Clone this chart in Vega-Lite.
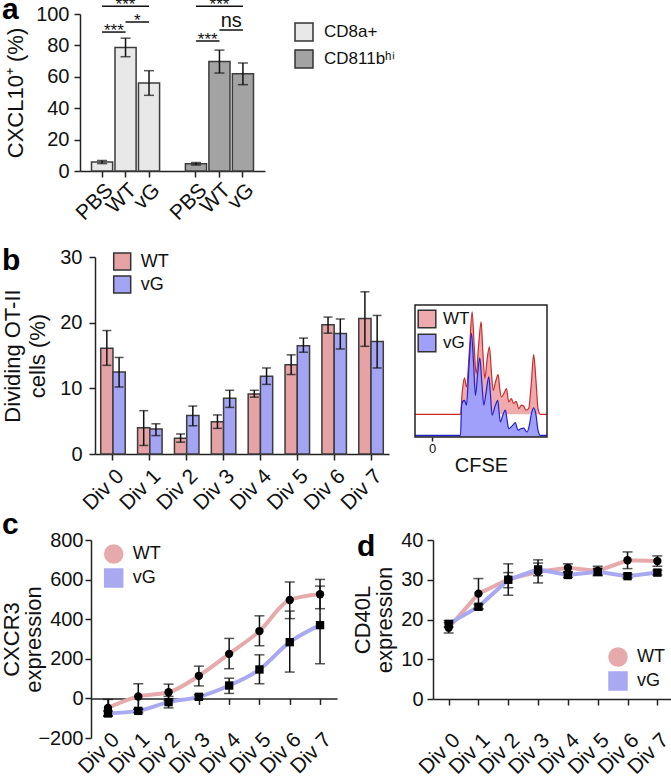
{
"$schema": "https://vega.github.io/schema/vega-lite/v6.json",
"padding": {"left": 0, "top": -6, "right": 0, "bottom": 0},
"background": "white",
"bounds": "flush",
"align": "each",
"columns": 2,
"spacing": {"row": 86, "column": 26},
"config": {
  "font": "Liberation Sans",
  "view": {"stroke": null},
  "axis": {"labelFont": "Liberation Sans", "titleFont": "Liberation Sans", "labelFontSize": 20, "titleFontSize": 22, "titleFontWeight": "normal", "labelColor": "#111", "titleColor": "#111", "domainColor": "#222", "tickColor": "#222", "domainWidth": 1.5, "tickWidth": 1.5, "tickSize": 6, "grid": false, "labelPadding": 5, "labelOverlap": false},
  "axisX": {"labelFontSize": 21},
  "legend": {"labelFont": "Liberation Sans", "labelColor": "#111", "symbolStrokeColor": "#333", "symbolStrokeWidth": 1.5, "symbolType": "square", "padding": 0, "labelFontSize": 18},
  "title": {"font": "Liberation Sans", "fontSize": 30, "fontWeight": "bold", "anchor": "start", "frame": "group", "baseline": "alphabetic", "offset": 0, "color": "#000"}
},
"datasets": {
  "a": [
    {"key": "c_PBS", "cell": "CD8a+", "value": 5.7, "lo": 4.7, "hi": 6.7},
    {"key": "c_WT", "cell": "CD8a+", "value": 78.7, "lo": 72.8, "hi": 84.6},
    {"key": "c_vG", "cell": "CD8a+", "value": 56.0, "lo": 48.2, "hi": 63.9},
    {"key": "m_PBS", "cell": "CD811bʰⁱ", "value": 4.6, "lo": 3.8, "hi": 5.4},
    {"key": "m_WT", "cell": "CD811bʰⁱ", "value": 69.8, "lo": 62.4, "hi": 77.0},
    {"key": "m_vG", "cell": "CD811bʰⁱ", "value": 62.0, "lo": 55.0, "hi": 68.8}
  ],
  "asig": [
    {"x1": "c_PBS", "x2": "c_vG", "xm": "c_WT", "span": 2, "y": 104.9, "label": "***"},
    {"x1": "c_WT", "x2": "c_vG", "xm": "c_WT", "span": 1, "y": 94.9, "label": "*"},
    {"x1": "c_PBS", "x2": "c_WT", "xm": "c_PBS", "span": 1, "y": 88.5, "label": "***"},
    {"x1": "m_PBS", "x2": "m_vG", "xm": "m_WT", "span": 2, "y": 104.9, "label": "***"},
    {"x1": "m_WT", "x2": "m_vG", "xm": "m_WT", "span": 1, "y": 89.8, "label": "ns"},
    {"x1": "m_PBS", "x2": "m_WT", "xm": "m_PBS", "span": 1, "y": 82.8, "label": "***"}
  ],
  "b": [
    {"div": "Div 0", "group": "WT", "value": 16.1, "lo": 13.5, "hi": 18.8},
    {"div": "Div 0", "group": "vG", "value": 12.5, "lo": 10.2, "hi": 14.7},
    {"div": "Div 1", "group": "WT", "value": 4.0, "lo": 1.3, "hi": 6.6},
    {"div": "Div 1", "group": "vG", "value": 3.8, "lo": 2.8, "hi": 4.6},
    {"div": "Div 2", "group": "WT", "value": 2.4, "lo": 1.8, "hi": 3.05},
    {"div": "Div 2", "group": "vG", "value": 5.85, "lo": 4.3, "hi": 7.3},
    {"div": "Div 3", "group": "WT", "value": 4.9, "lo": 3.9, "hi": 5.95},
    {"div": "Div 3", "group": "vG", "value": 8.5, "lo": 7.1, "hi": 9.7},
    {"div": "Div 4", "group": "WT", "value": 9.15, "lo": 8.65, "hi": 9.7},
    {"div": "Div 4", "group": "vG", "value": 11.85, "lo": 10.6, "hi": 13.1},
    {"div": "Div 5", "group": "WT", "value": 13.6, "lo": 12.1, "hi": 15.1},
    {"div": "Div 5", "group": "vG", "value": 16.5, "lo": 15.5, "hi": 17.65},
    {"div": "Div 6", "group": "WT", "value": 19.7, "lo": 18.4, "hi": 20.85},
    {"div": "Div 6", "group": "vG", "value": 18.35, "lo": 16.0, "hi": 20.55},
    {"div": "Div 7", "group": "WT", "value": 20.65, "lo": 16.4, "hi": 24.7},
    {"div": "Div 7", "group": "vG", "value": 17.15, "lo": 13.1, "hi": 21.1}
  ],
  "hist": [
    {"series": "WT", "x": -12.9, "y": 17.2}, {"series": "WT", "x": 21.6, "y": 17.2}, {"series": "WT", "x": 22.9, "y": 34.2}, {"series": "WT", "x": 24.6, "y": 44.8}, {"series": "WT", "x": 26.1, "y": 38.0}, {"series": "WT", "x": 28.4, "y": 67.1}, {"series": "WT", "x": 30.4, "y": 94.9}, {"series": "WT", "x": 31.9, "y": 69.6}, {"series": "WT", "x": 33.4, "y": 48.1}, {"series": "WT", "x": 35.5, "y": 72.2}, {"series": "WT", "x": 37.2, "y": 87.3}, {"series": "WT", "x": 38.5, "y": 64.6}, {"series": "WT", "x": 40.0, "y": 44.3}, {"series": "WT", "x": 41.8, "y": 59.5}, {"series": "WT", "x": 43.5, "y": 68.4}, {"series": "WT", "x": 44.8, "y": 51.9}, {"series": "WT", "x": 46.3, "y": 35.4}, {"series": "WT", "x": 48.1, "y": 41.8}, {"series": "WT", "x": 50.1, "y": 47.3}, {"series": "WT", "x": 51.3, "y": 36.7}, {"series": "WT", "x": 52.6, "y": 30.4}, {"series": "WT", "x": 54.4, "y": 32.9}, {"series": "WT", "x": 56.4, "y": 36.7}, {"series": "WT", "x": 58.1, "y": 26.6}, {"series": "WT", "x": 60.1, "y": 29.1}, {"series": "WT", "x": 61.9, "y": 25.3}, {"series": "WT", "x": 63.7, "y": 27.1}, {"series": "WT", "x": 65.7, "y": 21.5}, {"series": "WT", "x": 67.7, "y": 24.1}, {"series": "WT", "x": 69.5, "y": 23.3}, {"series": "WT", "x": 71.2, "y": 20.3}, {"series": "WT", "x": 73.2, "y": 21.5}, {"series": "WT", "x": 75.3, "y": 41.8}, {"series": "WT", "x": 77.0, "y": 62.5}, {"series": "WT", "x": 78.8, "y": 41.8}, {"series": "WT", "x": 80.3, "y": 21.5}, {"series": "WT", "x": 82.1, "y": 17.2}, {"series": "WT", "x": 87.1, "y": 17.2},
    {"series": "vG", "x": -12.9, "y": 1.3}, {"series": "vG", "x": 21.6, "y": 1.3}, {"series": "vG", "x": 22.4, "y": 24.1}, {"series": "vG", "x": 23.4, "y": 27.1}, {"series": "vG", "x": 24.6, "y": 27.8}, {"series": "vG", "x": 26.1, "y": 24.1}, {"series": "vG", "x": 27.9, "y": 51.9}, {"series": "vG", "x": 29.9, "y": 78.5}, {"series": "vG", "x": 31.4, "y": 57.0}, {"series": "vG", "x": 32.9, "y": 31.6}, {"series": "vG", "x": 34.7, "y": 49.4}, {"series": "vG", "x": 36.2, "y": 60.0}, {"series": "vG", "x": 37.7, "y": 41.8}, {"series": "vG", "x": 39.2, "y": 24.1}, {"series": "vG", "x": 41.0, "y": 34.2}, {"series": "vG", "x": 43.0, "y": 45.6}, {"series": "vG", "x": 44.3, "y": 31.6}, {"series": "vG", "x": 45.5, "y": 16.5}, {"series": "vG", "x": 47.6, "y": 22.8}, {"series": "vG", "x": 49.8, "y": 27.8}, {"series": "vG", "x": 50.8, "y": 19.0}, {"series": "vG", "x": 51.8, "y": 11.4}, {"series": "vG", "x": 53.6, "y": 16.5}, {"series": "vG", "x": 55.6, "y": 20.3}, {"series": "vG", "x": 56.9, "y": 12.7}, {"series": "vG", "x": 58.1, "y": 6.3}, {"series": "vG", "x": 60.7, "y": 8.4}, {"series": "vG", "x": 63.2, "y": 10.9}, {"series": "vG", "x": 64.2, "y": 7.6}, {"series": "vG", "x": 65.2, "y": 5.1}, {"series": "vG", "x": 67.2, "y": 6.3}, {"series": "vG", "x": 69.5, "y": 6.8}, {"series": "vG", "x": 70.7, "y": 5.1}, {"series": "vG", "x": 72.0, "y": 3.8}, {"series": "vG", "x": 73.7, "y": 8.9}, {"series": "vG", "x": 75.3, "y": 17.7}, {"series": "vG", "x": 77.0, "y": 22.0}, {"series": "vG", "x": 78.8, "y": 16.5}, {"series": "vG", "x": 80.3, "y": 5.1}, {"series": "vG", "x": 82.1, "y": 1.3}, {"series": "vG", "x": 87.1, "y": 1.3}
  ],
  "c": [
    {"div": "Div 0", "series": "WT", "value": -48, "lo": -90, "hi": -5},
    {"div": "Div 1", "series": "WT", "value": 10, "lo": -55, "hi": 74},
    {"div": "Div 2", "series": "WT", "value": 31, "lo": -10, "hi": 72},
    {"div": "Div 3", "series": "WT", "value": 114, "lo": 63, "hi": 163},
    {"div": "Div 4", "series": "WT", "value": 225, "lo": 150, "hi": 303},
    {"div": "Div 5", "series": "WT", "value": 340, "lo": 266, "hi": 417},
    {"div": "Div 6", "series": "WT", "value": 497, "lo": 403, "hi": 588},
    {"div": "Div 7", "series": "WT", "value": 526, "lo": 453, "hi": 601},
    {"div": "Div 0", "series": "vG", "value": -76, "lo": -88, "hi": -64},
    {"div": "Div 1", "series": "vG", "value": -63, "lo": -72, "hi": -55},
    {"div": "Div 2", "series": "vG", "value": -19, "lo": -48, "hi": 10},
    {"div": "Div 3", "series": "vG", "value": 8, "lo": -3, "hi": 18},
    {"div": "Div 4", "series": "vG", "value": 65, "lo": 25, "hi": 102},
    {"div": "Div 5", "series": "vG", "value": 146, "lo": 74, "hi": 220},
    {"div": "Div 6", "series": "vG", "value": 284, "lo": 133, "hi": 441},
    {"div": "Div 7", "series": "vG", "value": 370, "lo": 175, "hi": 567}
  ],
  "d": [
    {"div": "Div 0", "series": "WT", "value": 17.9, "lo": 16.6, "hi": 19.2},
    {"div": "Div 1", "series": "WT", "value": 26.5, "lo": 22.7, "hi": 30.3},
    {"div": "Div 2", "series": "WT", "value": 30.1, "lo": 26.1, "hi": 34.0},
    {"div": "Div 3", "series": "WT", "value": 32.0, "lo": 29.2, "hi": 35.0},
    {"div": "Div 4", "series": "WT", "value": 33.0, "lo": 32.0, "hi": 34.0},
    {"div": "Div 5", "series": "WT", "value": 32.2, "lo": 31.0, "hi": 33.4},
    {"div": "Div 6", "series": "WT", "value": 34.9, "lo": 32.8, "hi": 37.0},
    {"div": "Div 7", "series": "WT", "value": 34.7, "lo": 33.4, "hi": 36.0},
    {"div": "Div 0", "series": "vG", "value": 18.9, "lo": 18.1, "hi": 19.7},
    {"div": "Div 1", "series": "vG", "value": 23.2, "lo": 22.6, "hi": 23.8},
    {"div": "Div 2", "series": "vG", "value": 30.0, "lo": 28.0, "hi": 31.8},
    {"div": "Div 3", "series": "vG", "value": 32.6, "lo": 31.0, "hi": 34.2},
    {"div": "Div 4", "series": "vG", "value": 31.2, "lo": 30.6, "hi": 31.8},
    {"div": "Div 5", "series": "vG", "value": 32.0, "lo": 31.2, "hi": 32.8},
    {"div": "Div 6", "series": "vG", "value": 30.9, "lo": 30.4, "hi": 31.4},
    {"div": "Div 7", "series": "vG", "value": 31.8, "lo": 31.2, "hi": 32.4}
  ]
},
"resolve": {"scale": {"color": "independent", "shape": "independent"}, "legend": {"color": "independent", "shape": "independent"}},
"concat": [
  {
    "width": 185, "height": 157,
    "title": {"text": "a", "dx": -78, "dy": 32.5},
    "data": {"name": "a"},
    "layer": [
      {"mark": {"type": "bar", "stroke": "#3c3c3c", "strokeWidth": 1.5},
       "encoding": {
         "x": {"field": "key", "type": "nominal", "scale": {"domain": ["c_PBS", "c_WT", "c_vG", "gap", "m_PBS", "m_WT", "m_vG"], "paddingInner": 0.1, "paddingOuter": 0.49}, "axis": {"values": ["c_PBS", "c_WT", "c_vG", "m_PBS", "m_WT", "m_vG"], "labelExpr": "slice(datum.label, 2)", "title": null, "labelAngle": -45, "labelPadding": 2}},
         "y": {"field": "value", "type": "quantitative", "scale": {"domain": [0, 100], "nice": false}, "axis": {"values": [0, 20, 40, 60, 80, 100], "tickCount": 20, "labelOverlap": false, "title": "CXCL10⁺ (%)", "titlePadding": 8}},
         "color": {"field": "cell", "type": "nominal", "scale": {"domain": ["CD8a+", "CD811bʰⁱ"], "range": ["#e8e8e8", "#a3a3a3"]}, "legend": {"orient": "none", "legendX": 214, "legendY": 8, "title": null, "symbolSize": 324, "labelFontSize": 17, "rowPadding": 3, "labelOffset": 10}}
       }},
      {"mark": {"type": "rule", "color": "#111", "strokeWidth": 1.5}, "encoding": {"x": {"field": "key", "type": "nominal"}, "y": {"field": "lo", "type": "quantitative"}, "y2": {"field": "hi"}}},
      {"mark": {"type": "tick", "color": "#111", "size": 10, "thickness": 1.5}, "encoding": {"x": {"field": "key", "type": "nominal"}, "y": {"field": "lo", "type": "quantitative"}}},
      {"mark": {"type": "tick", "color": "#111", "size": 10, "thickness": 1.5}, "encoding": {"x": {"field": "key", "type": "nominal"}, "y": {"field": "hi", "type": "quantitative"}}},
      {"data": {"name": "asig"}, "mark": {"type": "rule", "color": "#111", "strokeWidth": 1.5}, "encoding": {"x": {"field": "x1", "type": "nominal"}, "x2": {"field": "x2"}, "y": {"field": "y", "type": "quantitative"}}},
      {"data": {"name": "asig"}, "transform": [{"filter": "datum.span == 2"}], "mark": {"type": "text", "fontSize": 17, "dy": 4, "baseline": "alphabetic", "color": "#111"}, "encoding": {"x": {"field": "xm", "type": "nominal", "bandPosition": 0.5}, "y": {"field": "y", "type": "quantitative"}, "text": {"field": "label"}}},
      {"data": {"name": "asig"}, "transform": [{"filter": "datum.span == 1 && datum.label != 'ns'"}], "mark": {"type": "text", "fontSize": 17, "dy": 4, "baseline": "alphabetic", "color": "#111"}, "encoding": {"x": {"field": "xm", "type": "nominal", "bandPosition": 1.056}, "y": {"field": "y", "type": "quantitative"}, "text": {"field": "label"}}},
      {"data": {"name": "asig"}, "transform": [{"filter": "datum.label == 'ns'"}], "mark": {"type": "text", "fontSize": 20, "dy": -3, "baseline": "alphabetic", "color": "#111"}, "encoding": {"x": {"field": "xm", "type": "nominal", "bandPosition": 1.056}, "y": {"field": "y", "type": "quantitative"}, "text": {"field": "label"}}}
    ]
  },
  {
    "width": 1, "height": 1,
    "data": {"values": []},
    "mark": {"type": "point", "opacity": 0}
  },
  {
    "width": 309, "height": 197,
    "title": {"text": "b", "dx": -78, "dy": 33},
    "data": {"name": "b"},
    "encoding": {
      "x": {"field": "div", "type": "nominal", "scale": {"domain": ["Div 0", "Div 1", "Div 2", "Div 3", "Div 4", "Div 5", "Div 6", "Div 7"], "range": [15, 309], "paddingInner": 0.335, "paddingOuter": 0.155}, "axis": {"title": null, "labelAngle": -45}},
      "xOffset": {"field": "group", "type": "nominal", "scale": {"domain": ["WT", "vG"]}}
    },
    "layer": [
      {"mark": {"type": "bar", "stroke": "#3c3c3c", "strokeWidth": 1.5},
       "encoding": {
         "y": {"field": "value", "type": "quantitative", "scale": {"domain": [0, 30], "nice": false}, "axis": {"values": [0, 10, 20, 30], "tickCount": 20, "labelOverlap": false, "offset": -15, "title": ["Dividing OT-II", "cells (%)"], "titleLineHeight": 25, "titlePadding": 10, "labelPadding": 7}},
         "color": {"field": "group", "type": "nominal", "scale": {"domain": ["WT", "vG"], "range": ["#e5a3a5", "#a4a4f4"]}, "legend": {"orient": "none", "legendX": 32.7, "legendY": -5, "title": null, "symbolSize": 289, "labelFontSize": 18, "rowPadding": 0, "labelOffset": 9}}
       }},
      {"mark": {"type": "rule", "color": "#111", "strokeWidth": 1.5}, "encoding": {"y": {"field": "lo", "type": "quantitative"}, "y2": {"field": "hi"}}},
      {"mark": {"type": "tick", "color": "#111", "size": 9, "thickness": 1.5}, "encoding": {"y": {"field": "lo", "type": "quantitative"}}},
      {"mark": {"type": "tick", "color": "#111", "size": 9, "thickness": 1.5}, "encoding": {"y": {"field": "hi", "type": "quantitative"}}}
    ]
  },
  {
    "width": 132, "height": 180,
    "data": {"name": "hist"},
    "encoding": {
      "x": {"field": "x", "type": "quantitative", "scale": {"domain": [-12.9, 87.1], "nice": false, "zero": false}, "axis": {"values": [0], "domain": false, "tickSize": 4, "labelFontSize": 13, "labelAngle": 0, "labelPadding": 1, "title": "CFSE", "titleFontSize": 20, "titlePadding": 0}},
      "y": {"field": "y", "type": "quantitative", "scale": {"domain": [0, 136.4], "nice": false}, "axis": null}
    },
    "layer": [
      {"transform": [{"filter": "datum.series == 'WT'"}], "mark": {"type": "area", "interpolate": "monotone"}, "encoding": {"y2": {"datum": 17.2}, "color": {"field": "series", "type": "nominal", "scale": {"domain": ["WT", "vG"], "range": ["#eeaaac", "#a0a0fa"]}, "legend": {"orient": "none", "legendX": 2, "legendY": 52, "title": null, "symbolSize": 310, "labelFontSize": 17, "rowPadding": 0, "labelOffset": 6}}}},
      {"transform": [{"filter": "datum.series == 'WT'"}], "mark": {"type": "line", "interpolate": "monotone", "color": "#cc2b2b", "strokeWidth": 1.2}},
      {"transform": [{"filter": "datum.series == 'vG'"}], "mark": {"type": "area", "interpolate": "monotone"}, "encoding": {"color": {"field": "series", "type": "nominal"}}},
      {"transform": [{"filter": "datum.series == 'vG'"}], "mark": {"type": "line", "interpolate": "monotone", "color": "#2222cc", "strokeWidth": 1.2}},
      {"data": {"values": [{"x0": -12.9, "x1": 87.1, "y0": 0, "y1": 100}]}, "mark": {"type": "rect", "filled": false, "stroke": "#222", "strokeWidth": 1.5}, "encoding": {"x": {"field": "x0", "type": "quantitative"}, "x2": {"field": "x1"}, "y": {"field": "y0", "type": "quantitative"}, "y2": {"field": "y1"}}}
    ]
  },
  {
    "width": 257, "height": 198,
    "title": {"text": "c", "dx": -78, "dy": 14},
    "data": {"name": "c"},
    "encoding": {
      "x": {"field": "div", "type": "ordinal", "scale": {"type": "point", "domain": ["Div 0", "Div 1", "Div 2", "Div 3", "Div 4", "Div 5", "Div 6", "Div 7"], "range": [11, 257], "padding": 0.56}, "axis": {"title": null, "labelAngle": -45, "offset": -39.6, "labelPadding": 24}}
    },
    "layer": [
      {"mark": {"type": "line", "interpolate": "monotone", "strokeWidth": 4},
       "encoding": {
         "y": {"field": "value", "type": "quantitative", "scale": {"domain": [-200, 800], "nice": false}, "axis": {"values": [-200, 0, 200, 400, 600, 800], "tickCount": 20, "labelOverlap": false, "offset": -11, "title": ["CXCR3", "expression"], "titleLineHeight": 22, "titlePadding": -8, "labelPadding": 2}},
         "color": {"field": "series", "type": "nominal", "scale": {"domain": ["WT", "vG"], "range": ["#e7aaac", "#a9a9f2"]}, "legend": {"orient": "none", "legendX": 23.7, "legendY": 4, "title": null, "symbolType": "M-0.8,-1L0.8,-1Q1,-1,1,-0.8L1,0.8Q1,1,0.8,1L-0.8,1Q-1,1,-1,0.8L-1,-0.8Q-1,-1,-0.8,-1Z", "symbolSize": 324, "symbolStrokeColor": "#555555", "symbolStrokeWidth": 1.5, "labelFontSize": 18, "rowPadding": 0, "labelOffset": 9, "encode": {"symbols": {"update": {"fill": {"signal": "datum.value === 'WT' ? '#e7aaac' : '#a9a9f2'"}, "stroke": {"value": "#555555"}, "strokeWidth": {"value": 1.5}, "opacity": {"value": 1}}}}}}
       }},
      {"mark": {"type": "rule", "color": "#111", "strokeWidth": 1.5}, "encoding": {"y": {"field": "lo", "type": "quantitative"}, "y2": {"field": "hi"}}},
      {"mark": {"type": "tick", "color": "#111", "size": 10, "thickness": 1.5}, "encoding": {"y": {"field": "lo", "type": "quantitative"}}},
      {"mark": {"type": "tick", "color": "#111", "size": 10, "thickness": 1.5}, "encoding": {"y": {"field": "hi", "type": "quantitative"}}},
      {"mark": {"type": "point", "filled": true, "color": "#000", "opacity": 1, "size": 70}, "encoding": {"y": {"field": "value", "type": "quantitative"}, "shape": {"field": "series", "type": "nominal", "scale": {"domain": ["WT", "vG"], "range": ["circle", "square"]}, "legend": null}}}
    ]
  },
  {
    "width": 258, "height": 159,
    "title": {"text": "d", "dx": -58, "dy": 36},
    "data": {"name": "d"},
    "encoding": {
      "x": {"field": "div", "type": "ordinal", "scale": {"type": "point", "domain": ["Div 0", "Div 1", "Div 2", "Div 3", "Div 4", "Div 5", "Div 6", "Div 7"], "range": [18, 258], "padding": 0.525}, "axis": {"title": null, "labelAngle": -45, "labelPadding": 24}}
    },
    "layer": [
      {"mark": {"type": "line", "strokeWidth": 4},
       "encoding": {
         "y": {"field": "value", "type": "quantitative", "scale": {"domain": [0, 40], "nice": false}, "axis": {"values": [0, 10, 20, 30, 40], "tickCount": 20, "labelOverlap": false, "offset": -18, "title": ["CD40L", "expression"], "titleLineHeight": 22, "titlePadding": 4, "labelPadding": 4}},
         "color": {"field": "series", "type": "nominal", "scale": {"domain": ["WT", "vG"], "range": ["#e7aaac", "#a9a9f2"]}, "legend": {"orient": "none", "legendX": 193, "legendY": 107, "title": null, "symbolType": "M-0.8,-1L0.8,-1Q1,-1,1,-0.8L1,0.8Q1,1,0.8,1L-0.8,1Q-1,1,-1,0.8L-1,-0.8Q-1,-1,-0.8,-1Z", "symbolSize": 324, "symbolStrokeColor": "#555555", "symbolStrokeWidth": 1.5, "labelFontSize": 18, "rowPadding": 0, "labelOffset": 9, "encode": {"symbols": {"update": {"fill": {"signal": "datum.value === 'WT' ? '#e7aaac' : '#a9a9f2'"}, "stroke": {"value": "#555555"}, "strokeWidth": {"value": 1.5}, "opacity": {"value": 1}}}}}}
       }},
      {"mark": {"type": "rule", "color": "#111", "strokeWidth": 1.5}, "encoding": {"y": {"field": "lo", "type": "quantitative"}, "y2": {"field": "hi"}}},
      {"mark": {"type": "tick", "color": "#111", "size": 10, "thickness": 1.5}, "encoding": {"y": {"field": "lo", "type": "quantitative"}}},
      {"mark": {"type": "tick", "color": "#111", "size": 10, "thickness": 1.5}, "encoding": {"y": {"field": "hi", "type": "quantitative"}}},
      {"mark": {"type": "point", "filled": true, "color": "#000", "opacity": 1, "size": 70}, "encoding": {"y": {"field": "value", "type": "quantitative"}, "shape": {"field": "series", "type": "nominal", "scale": {"domain": ["WT", "vG"], "range": ["circle", "square"]}, "legend": null}}}
    ]
  }
]
}
